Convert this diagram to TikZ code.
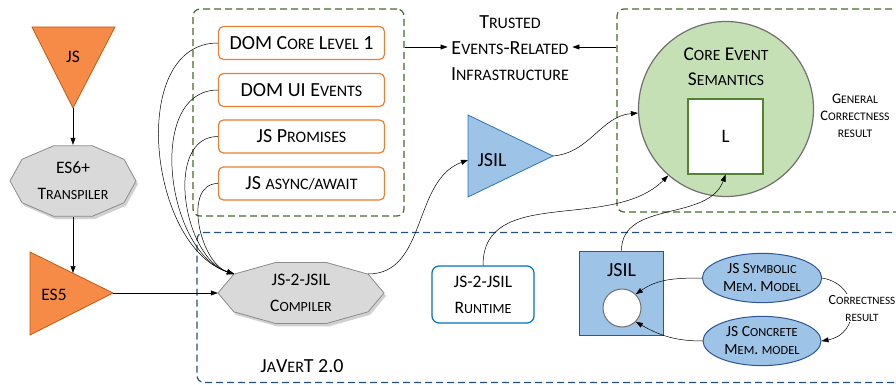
\documentclass[tikz,border=0pt]{standalone}
\usepackage{fontspec}
\setmainfont{Carlito}
\usetikzlibrary{arrows.meta,positioning,shapes.geometric,calc}
\definecolor{jsorange}{RGB}{245,139,70}
\definecolor{jsorangeline}{RGB}{197,90,17}
\definecolor{boxorange}{RGB}{237,125,49}
\definecolor{shadegray}{RGB}{217,217,217}
\definecolor{shadeline}{RGB}{140,140,140}
\definecolor{semgreen}{RGB}{197,224,180}
\definecolor{semline}{RGB}{112,112,112}
\definecolor{sqgreen}{RGB}{84,130,53}
\definecolor{dashgreen}{RGB}{68,110,40}
\definecolor{dashblue}{RGB}{40,80,125}
\definecolor{jsilblue}{RGB}{157,195,230}
\definecolor{jsilline}{RGB}{46,117,182}
\definecolor{darkblue}{RGB}{47,85,151}
\definecolor{runblue}{RGB}{0,112,192}
\makeatletter
\newcommand\sml[1]{{\fontsize{\fpeval{0.8*\f@size}}{\f@baselineskip}\selectfont\MakeUppercase{#1}}}
\makeatother
\newcommand\decagon[4]{%
  \fill[black,opacity=0.18] plot[samples at={0,36,...,324}] ({#1+2+#3*cos(\x)},{#2-3+#4*sin(\x)}) -- cycle;
  \draw[fill=shadegray,draw=shadeline,line width=0.8pt]
  plot[samples at={0,36,...,324}] ({#1+#3*cos(\x)},{#2+#4*sin(\x)}) -- cycle;}
\tikzset{
  conn/.style={-{Triangle[length=7pt,width=5pt]},line width=0.5pt},
  tagbox/.style={draw=boxorange,line width=1.2pt,rounded corners=5pt,fill=white,
    minimum width=166,minimum height=33,font=\fontsize{20}{26}\selectfont},
  groupbox/.style={dash pattern=on 7pt off 4pt,line width=1.2pt,rounded corners=7pt,
    minimum width=#1},
  bigfont/.style={font=\fontsize{17.5}{26}\selectfont},
  memell/.style={ellipse,draw=darkblue,fill=jsilblue,line width=1pt,minimum width=118,
    align=center,font=\fontsize{15.5}{18}\selectfont}
}
\begin{document}
\begin{tikzpicture}[x=1pt,y=1pt,bigfont]
  \useasboundingbox (0,0) rectangle (896,-385);
  % dashed groups
  \node[groupbox=211,draw=dashgreen,minimum height=207] (grpA) at (298.5,-112.5) {};
  \node[groupbox=293,draw=dashgreen,minimum height=203] (grpB) at (763.5,-110.5) {};
  \node[groupbox=713,draw=dashblue,minimum height=150] (grpC) at (553.5,-307.5) {};

  % JS -> ES6+ -> ES5
  \draw[fill=jsorange,draw=jsorangeline,line width=0.8pt] (32,-27) -- (115,-27) -- (73,-108) -- cycle;
  \coordinate (jsTip) at (73,-108);
  \node (js) at (73,-57) {JS};
  \decagon{73}{-181}{63}{37}
  \node[align=center,minimum width=126,minimum height=72] (es6) at (73,-181) {ES6+\\T\sml{ranspiler}};
  \draw[fill=jsorange,draw=jsorangeline,line width=0.8pt] (30,-252) -- (113,-293) -- (30,-335) -- cycle;
  \coordinate (es5Top) at (73,-273);
  \coordinate (es5Tip) at (113,-293);
  \node (es5) at (54,-295) {ES5};
  \draw[conn] (jsTip) -- (es6.north);
  \draw[conn] (es6.south) -- (es5Top);

  % event libraries
  \node[tagbox] (dom1) at (301.5,-43) {DOM C\sml{ore} L\sml{evel} 1};
  \node[tagbox] (dom2) at (301.5,-90) {DOM UI E\sml{vents}};
  \node[tagbox] (prom) at (301.5,-136.5) {JS P\sml{romises}};
  \node[tagbox] (async) at (301.5,-183.5) {JS \sml{async/await}};

  \node[align=center,font=\fontsize{20}{26}\selectfont] (trust) at (510,-48) {T\sml{rusted}\\E\sml{vents}-R\sml{elated}\\I\sml{nfrastructure}};
  \draw[conn] (grpA.east |- 0,-47) -- (trust.west |- 0,-47);
  \draw[conn] (grpB.west |- 0,-47) -- (trust.east |- 0,-47);

  % compiler
  \decagon{301}{-293}{83}{32}
  \node[align=center,minimum width=166,minimum height=64] (comp) at (301,-293) {JS-2-JSIL\\C\sml{ompiler}};
  \coordinate (compIn) at (234,-274);
  \coordinate (compOut) at (368,-274);
  \draw[conn] (es5Tip) -- (comp.west);
  \foreach \lib in {dom1,dom2,prom,async}
    \draw[conn] (\lib.west) to[out=180,in=162] (compIn);

  % JSIL triangle
  \draw[fill=jsilblue,draw=jsilline,line width=0.8pt] (468,-115) -- (553,-156) -- (468,-197) -- cycle;
  \coordinate (jsilIn) at (468,-160);
  \coordinate (jsilTip) at (553,-156);
  \node[font=\fontsize{20}{24}\selectfont] (jsil) at (492,-160) {JSIL};
  \draw[conn] (compOut) to[out=0,in=200] (jsilIn);

  % core semantics
  \node[circle,fill=semgreen,draw=semline,line width=1.2pt,minimum size=175] (sem) at (726,-109) {};
  \node[align=center,font=\fontsize{19.5}{25}\selectfont] (semlbl) at (726,-67) {C\sml{ore} E\sml{vent}\\S\sml{emantics}};
  \node[draw=sqgreen,fill=white,line width=1.2pt,minimum size=75,font=\fontsize{19}{24}\selectfont] (lsq) at (725.5,-136.5) {L};
  \node[align=center,font=\fontsize{14.5}{17}\selectfont] (gen) at (855,-116) {G\sml{eneral}\\C\sml{orrectness}\\\sml{result}};
  \draw[conn] (jsilTip) to[out=5,in=185] (sem.west |- 0,-113);

  % runtime and memory models
  \node[draw=runblue,rounded corners=7pt,line width=1.2pt,minimum width=102,minimum height=57,align=center] (rt) at (483,-294.5) {JS-2-JSIL\\R\sml{untime}};
  \draw[conn] (rt.north) to[out=90,in=225] (sem.229);

  \node[draw=darkblue,fill=jsilblue,line width=1pt,minimum size=84] (jbox) at (621.5,-293) {};
  \node[font=\fontsize{20}{24}\selectfont] (jboxlbl) at (621.5,-270) {JSIL};
  \node[circle,draw=semline,fill=white,line width=1pt,minimum size=38] (hole) at (622,-308) {};
  \draw[conn] (jbox.north) to[out=90,in=250] (lsq.south);

  \node[memell,minimum height=44] (sym) at (762,-278) {JS S\sml{ymbolic}\\M\sml{em}. M\sml{odel}};
  \node[memell,minimum height=48] (conc) at (762,-341) {JS C\sml{oncrete}\\M\sml{em}. \sml{model}};
  \draw[conn] (sym.west) to[out=180,in=35] (hole.45);
  \draw[conn] (conc.west) to[out=180,in=-30] (hole.-45);
  \draw[conn] (sym.east) to[out=-10,in=10,looseness=1.6] (conc.east);
  \node[fill=white,align=center,inner sep=1pt,font=\fontsize{14}{17}\selectfont] (corr) at (862,-308) {C\sml{orrectness}\\\sml{result}};

  \node[font=\fontsize{20}{24}\selectfont] (javert) at (302,-366) {J\sml{a}V\sml{er}T 2.0};
\end{tikzpicture}
\end{document}
